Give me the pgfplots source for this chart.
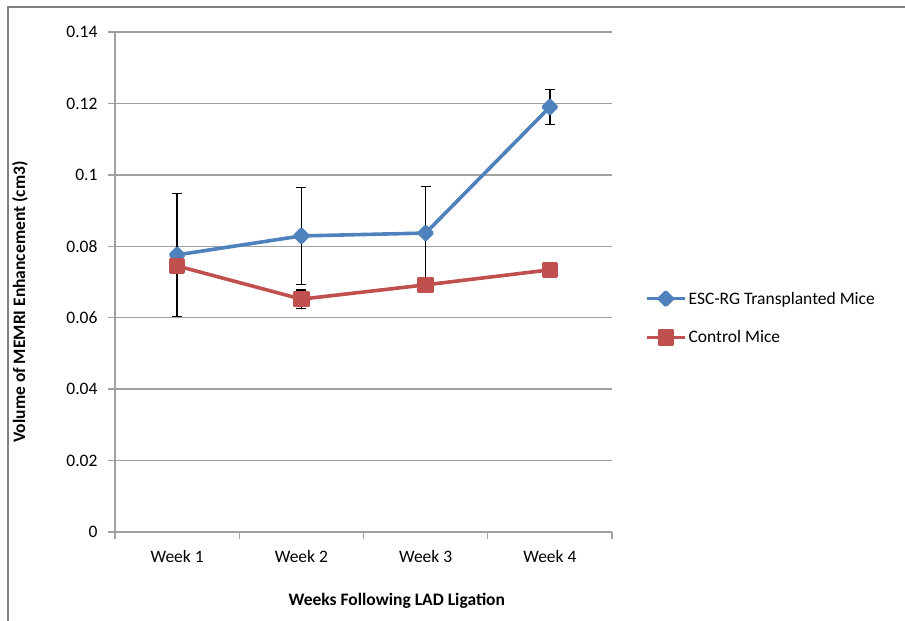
\documentclass[border=0pt]{standalone}
\usepackage{pgfplots}
\pgfplotsset{compat=1.18}
\usepackage{fontspec}
\setmainfont{Carlito}
\definecolor{exblue}{RGB}{79,129,189}
\definecolor{exred}{RGB}{192,80,77}
\definecolor{gridgray}{RGB}{160,160,160}
\begin{document}
\begin{tikzpicture}
\begin{axis}[
  scale only axis, width=497pt, height=500pt,
  xmin=0.5, xmax=4.5, ymin=0, ymax=0.14,
  axis x line*=bottom, axis y line*=left,
  axis line style={gridgray, line width=1.3pt},
  xtick={1,2,3,4}, xticklabels={Week 1,Week 2,Week 3,Week 4},
  minor xtick={0.5,1.5,2.5,3.5,4.5},
  ytick={0,0.02,0.04,0.06,0.08,0.1,0.12,0.14},
  yticklabels={0,0.02,0.04,0.06,0.08,0.1,0.12,0.14},
  scaled y ticks=false,
  ymajorgrids, major grid style={gridgray, line width=1.3pt},
  tick align=outside,
  major x tick style={draw=none},
  minor x tick style={gridgray, line width=1.3pt},
  major y tick style={gridgray, line width=1.3pt},
  major tick length=7pt, minor tick length=7pt,
  tick label style={font=\fontsize{17.5}{21}\selectfont},
  xticklabel style={yshift=-8pt},
  yticklabel style={xshift=-7pt},
  label style={font=\fontsize{17.5}{21}\selectfont\bfseries},
  xlabel={Weeks Following LAD Ligation},
  ylabel={Volume of MEMRI Enhancement (cm3)},
  xlabel style={at={(rel axis cs:0.567,-0.138)}, anchor=center},
  ylabel style={at={(rel axis cs:-0.191,0.46)}, anchor=center},
  legend style={at={(rel axis cs:1.06,0.428)}, anchor=west, draw=none, fill=none,
    font=\fontsize{17.5}{21}\selectfont, row sep=21pt,
    /tikz/every even column/.append style={column sep=0pt}},
  legend cell align=left,
  legend image code/.code={\draw[mark repeat=2,mark phase=2,#1] plot coordinates {(0pt,0pt) (19pt,0pt) (38pt,0pt)};},
  clip=false,
]
\coordinate (O) at (rel axis cs:0,0);
\addplot[exblue, line width=3.6pt, line join=round, mark=square*, mark size=4.6pt,
  mark options={rotate=45, solid},
  error bars/.cd, y dir=both, y explicit,
  error bar style={black, line width=1.3pt},
  error mark options={black, rotate=90, mark size=5pt, line width=1.3pt}]
  coordinates {
  (1,0.0776) +- (0,0.0172)
  (2,0.0829) +- (0,0.0136)
  (3,0.0837) +- (0,0.0130)
  (4,0.1190) +- (0,0.0049)
  };
\addlegendentry{ESC-RG Transplanted Mice}
\addplot[exred, line width=3.6pt, line join=round, mark=square*, mark size=6.5pt,
  mark options={solid},
  error bars/.cd, y dir=both, y explicit,
  error bar style={black, line width=1.3pt},
  error mark options={black, rotate=90, mark size=5pt, line width=1.3pt}]
  coordinates {
  (1,0.0745) +- (0,0.0)
  (2,0.0652) +- (0,0.0026)
  (3,0.0692) +- (0,0.0)
  (4,0.0734) +- (0,0.0)
  };
\addlegendentry{Control Mice}
\end{axis}
\draw[gray, line width=1.5pt] (O) ++(-107pt,-89pt) -- ++(0pt,614pt) -- ++(900pt,0pt);
\pgfresetboundingbox
\path[use as bounding box] (O) ++(-115pt,-89pt) rectangle ++(905pt,621pt);
\end{tikzpicture}
\end{document}
